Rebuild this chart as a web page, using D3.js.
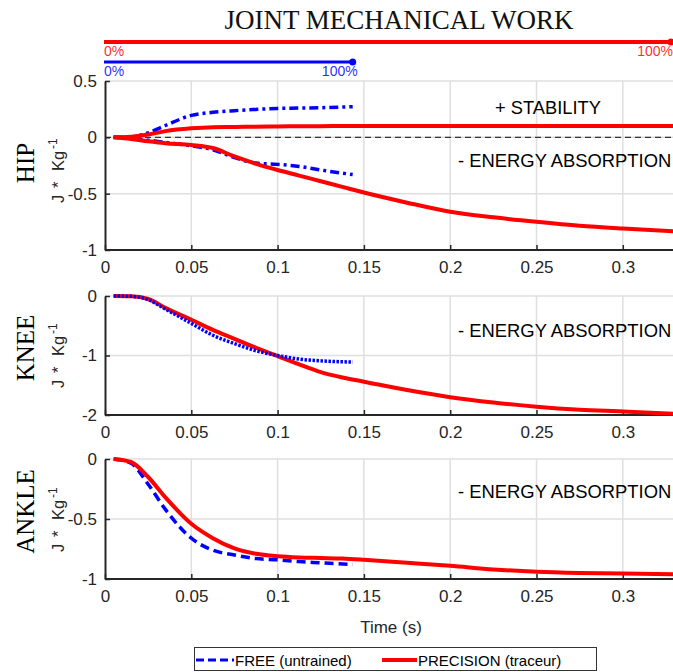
<!DOCTYPE html>
<html>
<head>
<meta charset="utf-8">
<script src="https://cdn.jsdelivr.net/npm/d3@7"></script>
<style>
  html, body { margin: 0; padding: 0; background: #fff; }
  svg { display: block; }
</style>
</head>
<body>
<svg id="chart" width="673" height="672"></svg>
<script>
// ---------------- DATA ----------------
const titleText = "JOINT MECHANICAL WORK";
const xTicks = [0, 0.05, 0.1, 0.15, 0.2, 0.25, 0.3];
const xTickLabels = ["0", "0.05", "0.1", "0.15", "0.2", "0.25", "0.3"];

const seriesNames = ["FREE (untrained)", "PRECISION (traceur)"];
const rangeFree = [0, 0.1435];
const rangePrecision = [0, 0.33];

const timeFree = [0.005, 0.015, 0.025, 0.035, 0.05, 0.0625, 0.075, 0.0875, 0.1, 0.1125, 0.125, 0.1435];
const timePrecision = [0.005, 0.015, 0.025, 0.035, 0.05, 0.0625, 0.075, 0.0875, 0.1, 0.1125, 0.125, 0.1375,
                       0.15, 0.175, 0.2, 0.225, 0.25, 0.275, 0.3, 0.33];

// HIP
const hipFreePos = [0, 0.003, 0.04, 0.105, 0.195, 0.222, 0.237, 0.248, 0.257, 0.26, 0.263, 0.272];
const hipFreeNeg = [0, -0.01, -0.025, -0.045, -0.075, -0.11, -0.18, -0.228, -0.24, -0.258, -0.29, -0.33];
const hipPrecPos = [0, 0.005, 0.025, 0.055, 0.08, 0.09, 0.092, 0.095, 0.097, 0.098, 0.099, 0.1,
                    0.1, 0.1, 0.1, 0.1, 0.1, 0.1, 0.1, 0.1];
const hipPrecNeg = [0, -0.015, -0.035, -0.052, -0.068, -0.095, -0.17, -0.235, -0.29, -0.34, -0.39, -0.44,
                    -0.49, -0.58, -0.66, -0.71, -0.75, -0.785, -0.81, -0.835];
// KNEE
const kneeFree = [0, -0.005, -0.06, -0.22, -0.46, -0.66, -0.80, -0.92, -1.0, -1.06, -1.09, -1.11];
const kneePrec = [0, -0.005, -0.05, -0.2, -0.40, -0.57, -0.72, -0.87, -1.01, -1.15, -1.28, -1.37,
                  -1.44, -1.58, -1.70, -1.79, -1.86, -1.91, -1.94, -1.98];
// ANKLE
const ankleFree = [0, -0.035, -0.21, -0.42, -0.66, -0.76, -0.80, -0.83, -0.84, -0.855, -0.865, -0.88];
const anklePrec = [0, -0.025, -0.15, -0.32, -0.54, -0.66, -0.745, -0.79, -0.81, -0.82, -0.825, -0.83,
                   -0.84, -0.865, -0.89, -0.92, -0.94, -0.95, -0.955, -0.96];

const panelNames = ["HIP", "KNEE", "ANKLE"];
const panelDomains = [[-1, 0.5], [-2, 0], [-1, 0]];
const panelYTicks = [[-1, -0.5, 0, 0.5], [-2, -1, 0], [-1, -0.5, 0]];
const panelYTickLabels = [["-1", "-0.5", "0", "0.5"], ["-2", "-1", "0"], ["-1", "-0.5", "0"]];
const annotPlus = "+ STABILITY";
const annotMinus = "- ENERGY ABSORPTION";
const xLabelText = "Time (s)";

// ---------------- LAYOUT ----------------
const svg = d3.select("#chart");
const RED = "#ff0000", BLUE = "#0000ff", AX = "#262626", GRID = "#dfdfdf";
const SANS = "'Liberation Sans', Arial, Helvetica, sans-serif";
const SERIF = "'Liberation Serif', 'Times New Roman', serif";

const x = d3.scaleLinear().domain([0, 0.33]).range([105, 105 + 0.33 * 1726]);

const panelRanges = [[250, 81], [415, 296], [579, 459]];
const nameCenterOff = [-2.5, -7.5, -7.5];
const unitStartOff = [37.5, 32.5, 33];
const minusBaseline = [167, 337, 498];

function zip(ts, vs) { return ts.map((t, i) => ({ t, v: vs[i] })); }

const panelSeries = [
  [ { d: zip(timeFree, hipFreePos), c: BLUE, w: 3.5, dash: "9,4,3,4" },
    { d: zip(timeFree, hipFreeNeg), c: BLUE, w: 3.5, dash: "9,4,3,4" },
    { d: zip(timePrecision, hipPrecPos), c: RED, w: 4, dash: null },
    { d: zip(timePrecision, hipPrecNeg), c: RED, w: 4, dash: null } ],
  [ { d: zip(timePrecision, kneePrec), c: RED, w: 4, dash: null },
    { d: zip(timeFree, kneeFree), c: BLUE, w: 3.5, dash: "2.5,1.5" } ],
  [ { d: zip(timeFree, ankleFree), c: BLUE, w: 3.5, dash: "9,5" },
    { d: zip(timePrecision, anklePrec), c: RED, w: 4, dash: null } ]
];

panelNames.forEach((name, p) => {
  const [yb, yt] = panelRanges[p];
  const y = d3.scaleLinear().domain(panelDomains[p]).range([yb, yt]);
  const g = svg.append("g");
  const xr = 673;

  // grid
  g.selectAll(".vg").data(xTicks.filter(t => t > 0)).enter().append("line")
    .attr("x1", d => x(d)).attr("x2", d => x(d)).attr("y1", yt).attr("y2", yb)
    .attr("stroke", GRID).attr("stroke-width", 1.5);
  g.selectAll(".hg").data(panelYTicks[p].filter(t => y(t) < yb - 1)).enter().append("line")
    .attr("x1", 105).attr("x2", xr).attr("y1", d => y(d)).attr("y2", d => y(d))
    .attr("stroke", GRID).attr("stroke-width", 1.5);

  // zero dashed line on HIP
  if (p === 0) {
    g.append("line").attr("x1", 105).attr("x2", xr).attr("y1", y(0)).attr("y2", y(0))
      .attr("stroke", "#333").attr("stroke-width", 1.3).attr("stroke-dasharray", "6,4");
  }

  // axes
  const xAxis = d3.axisBottom(x).tickValues(xTicks)
    .tickFormat((d, i) => xTickLabels[i]).tickSizeInner(-5).tickSizeOuter(0).tickPadding(11);
  const gx = g.append("g").attr("transform", `translate(0,${yb})`).call(xAxis);
  gx.select(".domain").attr("stroke", AX).attr("stroke-width", 2)
    .attr("d", `M105,0H${xr}`);
  gx.selectAll(".tick line").attr("stroke", AX).attr("stroke-width", 1.5);
  gx.selectAll(".tick text").attr("font-family", SANS).attr("font-size", 17).attr("fill", AX)
    .attr("dy", "0.71em");

  const yAxis = d3.axisLeft(y).tickValues(panelYTicks[p])
    .tickFormat((d, i) => panelYTickLabels[p][i]).tickSizeInner(-5).tickSizeOuter(0).tickPadding(8);
  const gy = g.append("g").attr("transform", "translate(105,0)").call(yAxis);
  gy.select(".domain").attr("stroke", AX).attr("stroke-width", 2);
  gy.selectAll(".tick line").attr("stroke", AX).attr("stroke-width", 1.5);
  gy.selectAll(".tick text").attr("font-family", SANS).attr("font-size", 17).attr("fill", AX);

  // series
  const line = d3.line().x(d => x(d.t)).y(d => y(d.v)).curve(d3.curveMonotoneX);
  panelSeries[p].forEach(s => {
    g.append("path").attr("d", line(s.d)).attr("fill", "none")
      .attr("stroke", s.c).attr("stroke-width", s.w)
      .attr("stroke-dasharray", s.dash).attr("stroke-linejoin", "round");
  });

  // y labels
  const cy = (yb + yt) / 2;
  svg.append("text").attr("transform", `translate(34,${cy + nameCenterOff[p]}) rotate(-90)`)
    .attr("text-anchor", "middle").attr("font-family", SERIF).attr("font-size", 25).attr("fill", "#000")
    .text(name);
  const ut = svg.append("text").attr("transform", `translate(64,${cy + unitStartOff[p]}) rotate(-90)`)
    .attr("font-family", SANS).attr("font-size", 16.5).attr("fill", AX);
  ut.append("tspan").attr("x", 0).attr("y", 0).text("J");
  ut.append("tspan").attr("x", 15).attr("y", 0).text("*");
  ut.append("tspan").attr("x", 32).attr("y", 0).text("Kg");
  ut.append("tspan").attr("x", 54).attr("y", -7).attr("font-size", 12).text("-1");

  // annotations
  if (p === 0) {
    svg.append("text").attr("x", 495).attr("y", 114).attr("font-family", SANS).attr("font-size", 18.3)
      .attr("fill", "#000").text(annotPlus);
  }
  svg.append("text").attr("x", 458).attr("y", minusBaseline[p]).attr("font-family", SANS).attr("font-size", 18.4)
    .attr("fill", "#000").text(annotMinus);
});

// title
svg.append("text").attr("x", 399).attr("y", 29).attr("text-anchor", "middle")
  .attr("font-family", SERIF).attr("font-size", 27).attr("fill", "#111").text(titleText);

// top progress bars
const bars = [
  { r: rangePrecision, c: RED, y: 42, w: 4, labY: 56, endX: 673 },
  { r: rangeFree, c: BLUE, y: 62, w: 3, labY: 76, endX: null }
];
bars.forEach(b => {
  const x0 = x(b.r[0]) - 1, x1 = Math.min(x(b.r[1]), 671);
  svg.append("line").attr("x1", x0).attr("x2", x1).attr("y1", b.y).attr("y2", b.y)
    .attr("stroke", b.c).attr("stroke-width", b.w);
  svg.append("circle").attr("cx", x1).attr("cy", b.y).attr("r", 3.5).attr("fill", b.c);
  svg.append("text").attr("x", x0).attr("y", b.labY).attr("font-family", SANS).attr("font-size", 14)
    .attr("fill", b.c).attr("fill-opacity", 0.85).text("0%");
  svg.append("text").attr("x", b.endX !== null ? b.endX : x1 + 5).attr("y", b.labY).attr("text-anchor", "end")
    .attr("font-family", SANS).attr("font-size", 14).attr("fill", b.c).attr("fill-opacity", 0.85).text("100%");
});

// x label
svg.append("text").attr("x", 391).attr("y", 633).attr("text-anchor", "middle")
  .attr("font-family", SANS).attr("font-size", 17).attr("fill", AX).text(xLabelText);

// legend
const lg = svg.append("g");
lg.append("rect").attr("x", 194.5).attr("y", 647.5).attr("width", 402).attr("height", 23)
  .attr("fill", "#fff").attr("stroke", "#333").attr("stroke-width", 1);
const legendItems = [
  { name: seriesNames[0], c: BLUE, w: 3, dash: "8,4", x1: 196, x2: 234, tx: 235 },
  { name: seriesNames[1], c: RED, w: 4, dash: null, x1: 382, x2: 417, tx: 418 }
];
legendItems.forEach(it => {
  lg.append("line").attr("x1", it.x1).attr("x2", it.x2).attr("y1", 660).attr("y2", 660)
    .attr("stroke", it.c).attr("stroke-width", it.w).attr("stroke-dasharray", it.dash);
  lg.append("text").attr("x", it.tx).attr("y", 665.5).attr("font-family", SANS).attr("font-size", 15)
    .attr("fill", "#000").text(it.name);
});
</script>
</body>
</html>
